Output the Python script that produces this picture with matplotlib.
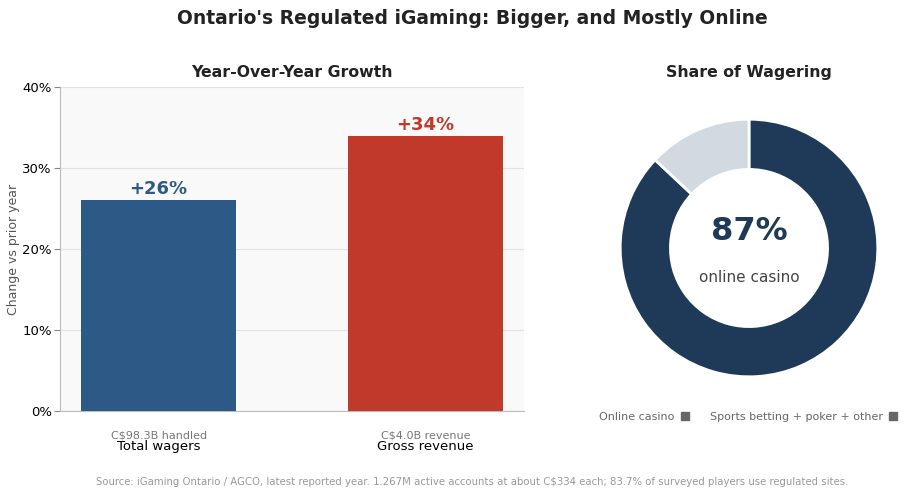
import numpy as np
import matplotlib.pyplot as plt
from matplotlib.lines import Line2D

# data
cats = ['Total wagers', 'Gross revenue']
subs = ['C$98.3B handled', 'C$4.0B revenue']
growth = [26, 34]
share_labels = ['Online casino', 'Sports betting + poker + other']
share = [87, 13]

blue = '#2d5986'
red = '#c0392b'
navy = '#1f3a58'
pale = '#d2d9e1'

fig = plt.figure(figsize=(9.2, 4.96), dpi=100)
fig.text(472/920, 0.963, "Ontario's Regulated iGaming: Bigger, and Mostly Online",
         ha='center', va='center', fontsize=13.5, fontweight='bold', color='#222222')

# bars
ax = fig.add_axes([60/920, 1-411/496, 464/920, 324/496])
ax.set_facecolor('#f9f9f9')
x = np.arange(len(cats))
bars = ax.bar(x, growth, width=0.58, color=[blue, red], zorder=3)
ax.set_xlim(-0.37, 1.37)
ax.set_ylim(0, 40)
ax.set_yticks([0, 10, 20, 30, 40])
ax.set_yticklabels(['%d%%' % v for v in [0, 10, 20, 30, 40]], fontsize=9.5)
ax.yaxis.grid(True, color='#e2e2e2', lw=0.8, zorder=0)
ax.set_xticks(x)
ax.set_xticklabels(cats, fontsize=9.5)
ax.tick_params(axis='x', length=0, pad=21)
ax.tick_params(axis='y', color='#888888', length=4, pad=2)
for s in ['top', 'right']:
    ax.spines[s].set_visible(False)
for s in ['left', 'bottom']:
    ax.spines[s].set_color('#bbbbbb')
ax.set_ylabel('Change vs prior year', fontsize=9, color='#555555')
ax.yaxis.set_label_coords(-0.086, 0.5)
ax.set_title('Year-Over-Year Growth', fontsize=11.3, fontweight='bold', pad=7, color='#222222')
for xi, v, c, s in zip(x, growth, [blue, red], subs):
    ax.annotate('+%d%%' % v, (xi, v), xytext=(0, 1.5), textcoords='offset points',
                ha='center', va='bottom', fontsize=13, fontweight='bold', color=c)
    ax.annotate(s, (xi, 0), xytext=(0, -17.5), textcoords='offset points',
                ha='center', va='center', fontsize=8, color='#777777',
                annotation_clip=False)

# donut
ax2 = fig.add_axes([588/920, (496-409)/496, 322/920, 322/496])
ax2.pie(share, colors=[navy, pale], startangle=90, counterclock=False,
        wedgeprops=dict(width=0.39, edgecolor='white', linewidth=2))
ax2.set_aspect('equal')
ax2.set_title('Share of Wagering', fontsize=11.3, fontweight='bold', pad=7, color='#222222')
ax2.text(0, 0.13, '%d%%' % share[0], ha='center', va='center', fontsize=23,
         fontweight='bold', color=navy)
ax2.text(0, -0.23, 'online casino', ha='center', va='center', fontsize=11, color='#444444')

handles = [Line2D([], [], marker='s', ls='', color='#666666', markersize=6) for _ in share_labels]
fig.legend(handles, share_labels, loc='center', bbox_to_anchor=(749/920, 1-417/496),
           ncol=2, frameon=False, markerfirst=False, fontsize=8, labelcolor='#666666',
           columnspacing=1.8, handletextpad=0.4, handlelength=1)

fig.text(472/920, 1-482/496, 'Source: iGaming Ontario / AGCO, latest reported year. 1.267M active accounts '
         'at about C$334 each; 83.7% of surveyed players use regulated sites.',
         ha='center', va='center', fontsize=7.25, color='#999999')

fig.savefig('out.png', dpi=100)
